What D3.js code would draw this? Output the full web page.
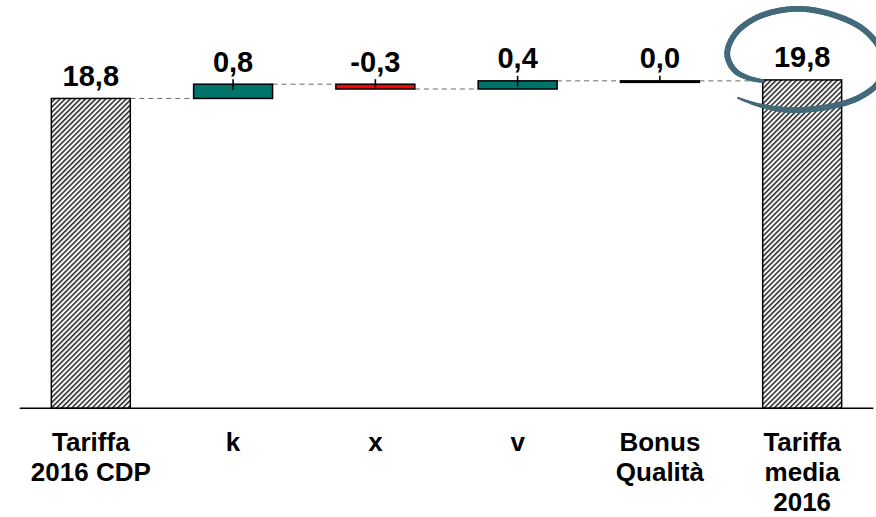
<!DOCTYPE html>
<html>
<head>
<meta charset="utf-8">
<script src="https://cdn.jsdelivr.net/npm/d3@7"></script>
<style>
  html, body { margin: 0; padding: 0; background: #fff; }
  svg { display: block; }
</style>
</head>
<body>
<svg id="chart" width="876" height="517"></svg>
<script>
// ---- data ----
const categories = ["Tariffa\n2016 CDP", "k", "x", "v", "Bonus\nQualità", "Tariffa\nmedia\n2016"];
const kinds      = ["total", "delta", "delta", "delta", "delta", "total"];
const values     = [18.8, 0.77, -0.26, 0.44, 0.0, 19.8];
const yDomain    = [2.07, 19.78];

// ---- styles ----
const teal = "#00746a", red = "#ff0000", ringColor = "#436a7a";
const font = "'Liberation Sans', Arial, Helvetica, sans-serif";
const loc = d3.formatLocale({decimal: ",", thousands: ".", grouping: [3], currency: ["", "€"], minus: "-"});
const fmt = loc.format(".1f");

const svg = d3.select("#chart");

// hatch pattern
const defs = svg.append("defs");
const pat = defs.append("pattern")
  .attr("id", "hatch").attr("patternUnits", "userSpaceOnUse")
  .attr("width", 3.6).attr("height", 3.6)
  .attr("patternTransform", "rotate(45)");
pat.append("rect").attr("width", 3.6).attr("height", 3.6).attr("fill", "#fff");
pat.append("line").attr("x1", 0.8).attr("y1", 0).attr("x2", 0.8).attr("y2", 3.6)
  .attr("stroke", "#000").attr("stroke-width", 1.3);

// scales
const x = d3.scaleBand().domain(d3.range(categories.length))
  .range([19.7, 873.3]).paddingInner(0.445).paddingOuter(0.2225);
const y = d3.scaleLinear().domain(yDomain).range([408.3, 80.3]);

// build waterfall segments
let running = 0;
const segs = values.map((v, i) => {
  let a, b;
  if (kinds[i] === "total") { a = yDomain[0]; b = v; running = v; }
  else { a = running; b = running + v; running = b; }
  return {i, v, kind: kinds[i], a, b, level: b};
});

// connectors
for (let i = 0; i < segs.length - 1; i++) {
  const s = segs[i];
  svg.append("line")
    .attr("x1", x(i) + x.bandwidth()).attr("x2", x(i + 1))
    .attr("y1", y(s.level)).attr("y2", y(s.level))
    .attr("stroke", "#6a6a6a").attr("stroke-width", 1)
    .attr("stroke-dasharray", "5,4");
}

// bars
segs.forEach(s => {
  const top = y(Math.max(s.a, s.b)), bot = y(Math.min(s.a, s.b));
  const h = Math.max(bot - top, 1.5);
  let fill = "url(#hatch)";
  if (s.kind === "delta") fill = s.v > 0 ? teal : (s.v < 0 ? red : "#000");
  svg.append("rect")
    .attr("x", x(s.i)).attr("y", top)
    .attr("width", x.bandwidth()).attr("height", h)
    .attr("fill", fill).attr("stroke", "#000").attr("stroke-width", 1.5);
  if (s.kind === "delta") {
    const cx = x(s.i) + x.bandwidth() / 2;
    svg.append("line")
      .attr("x1", cx).attr("x2", cx)
      .attr("y1", top - 5).attr("y2", Math.min(bot, top + 6))
      .attr("stroke", "#000").attr("stroke-width", 1.6);
  }
  svg.append("text")
    .attr("x", x(s.i) + x.bandwidth() / 2)
    .attr("y", top - 12.5)
    .attr("text-anchor", "middle")
    .attr("font-family", font).attr("font-weight", "bold")
    .attr("font-size", 29).attr("fill", "#000")
    .text(fmt(s.v));
});

// baseline axis
svg.append("line")
  .attr("x1", x.range()[0]).attr("x2", x.range()[1])
  .attr("y1", y(yDomain[0])).attr("y2", y(yDomain[0]))
  .attr("stroke", "#000").attr("stroke-width", 1.6);

// category labels
categories.forEach((c, i) => {
  const t = svg.append("text")
    .attr("text-anchor", "middle")
    .attr("font-family", font).attr("font-weight", "bold")
    .attr("font-size", 26).attr("fill", "#000");
  c.split("\n").forEach((line, j) => {
    t.append("tspan")
      .attr("x", x(i) + x.bandwidth() / 2)
      .attr("y", 451 + j * 30)
      .text(line);
  });
});

// hand-drawn ring around the final value (tapered stroke)
const last = segs[segs.length - 1];
const rcx = x(last.i) + x.bandwidth() / 2;
const rcy = y(last.b);
const ringRel = [
  [-64, 18], [-44, 25], [-14, 30], [26, 27], [58, 17], [78, 0], [80, -26],
  [62, -50], [28, -66], [-8, -71], [-44, -63], [-67, -46], [-75, -26],
  [-68, -10], [-54, -2], [-40, 1]
];
const ringPts = ringRel.map(([dx, dy]) => [rcx + dx, rcy + dy]);
const guide = svg.append("path")
  .attr("d", d3.line().curve(d3.curveCatmullRom.alpha(0.5))(ringPts))
  .attr("fill", "none").attr("stroke", "none");
const node = guide.node();
const L = node.getTotalLength();
const N = 120;
const ring = svg.append("g").attr("stroke", ringColor).attr("stroke-linecap", "round").attr("fill", "none");
let prev = node.getPointAtLength(0);
for (let k = 1; k <= N; k++) {
  const t = k / N;
  const p = node.getPointAtLength(t * L);
  const w = t < 0.12 ? 2 + (t / 0.12) * 3.8 : (t > 0.93 ? 5.8 - ((t - 0.93) / 0.07) * 1.8 : 5.8);
  ring.append("line")
    .attr("x1", prev.x).attr("y1", prev.y).attr("x2", p.x).attr("y2", p.y)
    .attr("stroke-width", w);
  prev = p;
}
guide.remove();
</script>
</body>
</html>
